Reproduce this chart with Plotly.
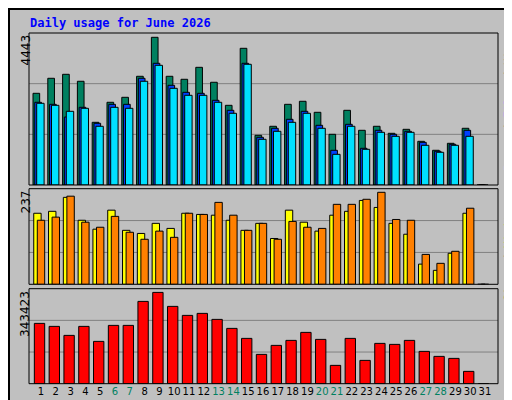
import plotly.graph_objects as go

days = list(range(1, 32))
hits = [2758,3210,3330,3120,1886,2488,2638,3270,4443,3270,3180,3540,3090,2397,4112,1495,1766,2427,2518,2187,1525,2247,1645,1766,1555,1675,1314,1044,1254,1706,0]
files = [2488,2427,2045,2337,1856,2427,2427,3210,3661,2999,2788,2758,2548,2247,3661,1435,1706,1976,2217,1796,1044,1826,1104,1645,1525,1615,1284,1014,1224,1645,0]
pages = [2458,2397,2217,2307,1766,2337,2307,3120,3600,2909,2698,2698,2488,2157,3631,1375,1615,1886,2157,1706,923,1766,1074,1585,1465,1585,1194,984,1194,1465,0]
sites = [183,188,224,165,142,191,139,131,157,144,183,180,178,165,139,157,118,191,160,137,178,188,216,198,157,129,52,36,80,183,0]
visits = [165,173,227,160,147,175,134,116,137,121,183,180,211,178,139,157,116,162,147,144,206,206,219,237,167,165,77,54,85,196,0]
kb_scaled = [181,172,145,172,127,175,175,247,274,232,205,211,193,166,136,88,115,130,154,133,55,136,70,121,118,130,97,82,76,37,0]
kbytes = [round(v * 343423 / 274) for v in kb_scaled]
weekend = [6,7,13,14,20,21,27,28]

ticktext = [f"<span style='color:#008060'>{d}</span>" if d in weekend else str(d) for d in days]

fig = go.Figure()
ol = dict(color="black", width=1)
def bar(y, color, off, w, xa, ya):
    fig.add_trace(go.Bar(x=days, y=y, offset=off, width=w, marker=dict(color=color, line=ol),
                         xaxis=xa, yaxis=ya, hoverinfo="skip"))

bar(hits, "#008060", -0.54, 0.45, "x", "y")
bar(files, "#0040ff", -0.42, 0.45, "x", "y")
bar(pages, "#00e0ff", -0.29, 0.5, "x", "y")
bar(sites, "#ffff00", -0.49, 0.5, "x2", "y2")
bar(visits, "#ff8000", -0.25, 0.5, "x2", "y2")
bar(kbytes, "#ff0000", -0.45, 0.7, "x3", "y3")

W, H = 512, 400
def py(px): return 1 - px / H
xr = [0.19, 31.88]
xd = [21 / W, 490 / W]
common = dict(range=xr, domain=xd, showgrid=False, zeroline=False, fixedrange=True)
fig.update_layout(
    width=W, height=H, margin=dict(l=0, r=0, t=0, b=0),
    paper_bgcolor="#c0c0c0", plot_bgcolor="#c0c0c0", showlegend=False, barmode="overlay",
    font=dict(family="DejaVu Sans Mono", size=11, color="black"),
    xaxis=dict(common, anchor="y", showticklabels=False, ticks=""),
    xaxis2=dict(common, anchor="y2", showticklabels=False, ticks=""),
    xaxis3=dict(common, anchor="y3", tickvals=days, ticktext=ticktext, ticks="", tickangle=0,
                tickfont=dict(family="DejaVu Sans", size=10)),
    yaxis=dict(domain=[py(177), py(25)], range=[0, 4443 * 152 / 147.7], showticklabels=False, showgrid=False, zeroline=False),
    yaxis2=dict(domain=[py(276.3), py(180.7)], range=[0, 237 * 95.6 / 92], showticklabels=False, showgrid=False, zeroline=False),
    yaxis3=dict(domain=[py(375.7), py(280.7)], range=[0, 343423 * 95 / 91.3], showticklabels=False, showgrid=False, zeroline=False),
)

shapes = []
for ya in ["y", "y2", "y3"]:
    for f in [1/3, 2/3]:
        shapes.append(dict(type="line", xref="x domain", yref=f"{ya} domain", x0=0, x1=1, y0=f, y1=f,
                           line=dict(color="#808080", width=1), layer="below"))
    shapes.append(dict(type="rect", xref="x domain", yref=f"{ya} domain", x0=0, x1=1, y0=0, y1=1,
                       line=dict(color="black", width=1)))
shapes.append(dict(type="rect", xref="paper", yref="paper", x0=506/W, x1=1, y0=0, y1=py(6), fillcolor="#808080", line_width=0))
shapes.append(dict(type="rect", xref="paper", yref="paper", x0=6/W, x1=1, y0=0, y1=py(394), fillcolor="#808080", line_width=0))
shapes.append(dict(type="rect", xref="paper", yref="paper", x0=1/W, x1=505/W, y0=py(393), y1=py(1), line=dict(color="black", width=2)))
fig.update_layout(shapes=shapes)

ann = [
    dict(text="<b>Daily usage for June 2026</b>", x=20/W, y=py(15), xanchor="left", yanchor="middle",
         font=dict(color="#0000ff", size=12, family="DejaVu Sans Mono")),
    dict(text="4443", x=8/W, y=py(25), textangle=-90, xanchor="left", yanchor="top", font=dict(size=12, family="DejaVu Sans")),
    dict(text="237", x=8/W, y=py(181), textangle=-90, xanchor="left", yanchor="top", font=dict(size=12, family="DejaVu Sans")),
    dict(text="343423", x=8/W, y=py(281), textangle=-90, xanchor="left", yanchor="top", font=dict(size=12, family="DejaVu Sans")),
    dict(text="<span style='color:#00c0e0'>Pages</span> / <span style='color:#0040ff'>Files</span> / <span style='color:#008060'>Hits</span>",
         x=492/W, y=py(28), textangle=-90, xanchor="left", yanchor="top", font=dict(size=11)),
    dict(text="<span style='color:#ff8000'>Sites</span> / <span style='color:#ffff00'>Visits</span>",
         x=492/W, y=py(198), textangle=-90, xanchor="left", yanchor="top", font=dict(size=11)),
    dict(text="<span style='color:#ff0000'>KBytes</span>",
         x=492/W, y=py(340), textangle=-90, xanchor="left", yanchor="top", font=dict(size=11)),
]
for a in ann:
    a.update(xref="paper", yref="paper", showarrow=False)
fig.update_layout(annotations=ann)
fig.write_html("out.html")
